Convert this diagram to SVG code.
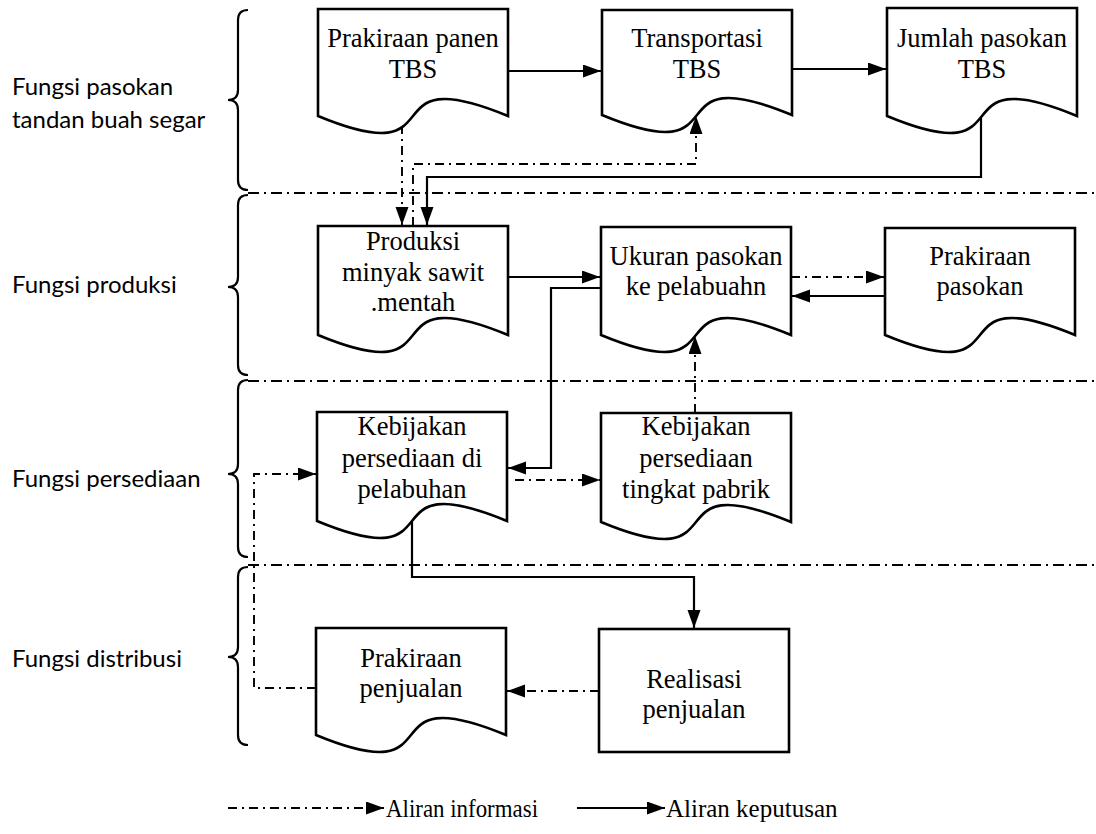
<svg xmlns="http://www.w3.org/2000/svg" width="1096" height="834" viewBox="0 0 1096 834">
<defs>
<marker id="ah" markerUnits="userSpaceOnUse" markerWidth="20" markerHeight="14" refX="18" refY="6.5" orient="auto">
<path d="M0,0 L18,6.5 L0,13 Z" fill="#000"/>
</marker>
<style>
.bg{fill:#fff}
.node{fill:#fff;stroke:#000;stroke-width:2.6;stroke-linejoin:miter}
.t{font-family:"Liberation Serif","Times New Roman",serif;font-size:26.5px;fill:#000;text-anchor:middle}
.lbl{font-family:Lato,"Noto Sans",sans-serif;font-size:24px;fill:#000}
.lg{font-family:"Liberation Serif","Times New Roman",serif;font-size:25px;fill:#000}
.brace{fill:none;stroke:#000;stroke-width:2.2}
.sep{fill:none;stroke:#000;stroke-width:1.8;stroke-dasharray:11 5 2 5}
.dec{fill:none;stroke:#000;stroke-width:2.2}
.info{fill:none;stroke:#000;stroke-width:1.9;stroke-dasharray:9 5 2 5}
.arr{marker-end:url(#ah)}
</style>
</defs>
<rect class="bg" x="0" y="0" width="1096" height="834"/>

<g id="lanes">
<text class="lbl" x="12" y="95">Fungsi pasokan</text>
<text class="lbl" x="12" y="128">tandan buah segar</text>
<text class="lbl" x="12" y="293">Fungsi produksi</text>
<text class="lbl" x="12" y="487">Fungsi persediaan</text>
<text class="lbl" x="12" y="667">Fungsi distribusi</text>
<path class="brace" d="M248,10 Q238,10 238,20 V90 Q238,100 228,100 Q238,100 238,110 V180 Q238,190 248,190"/>
<path class="brace" d="M248,195 Q238,195 238,205 V277 Q238,287 228,287 Q238,287 238,297 V365 Q238,375 248,375"/>
<path class="brace" d="M248,380 Q238,380 238,390 V464 Q238,474 228,474 Q238,474 238,484 V547 Q238,557 248,557"/>
<path class="brace" d="M248,567 Q238,567 238,577 V647 Q238,657 228,657 Q238,657 238,667 V735 Q238,745 248,745"/>
<path class="sep" d="M248,193 H1096"/>
<path class="sep" d="M248,381 H1096"/>
<path class="sep" d="M248,565 H1096"/>
</g>

<g id="connectors">
<path class="dec arr" d="M508,71 H601"/>
<path class="dec arr" d="M793,69 H886"/>
<path class="dec arr" d="M981,116 V177 H427 V225"/>
<path class="dec arr" d="M508,277 H600"/>
<path class="dec arr" d="M885,296 H792"/>
<path class="dec arr" d="M602,288 H551 V468 H508"/>
<path class="dec arr" d="M412,521 V577 H694 V628"/>
<path class="info arr" d="M402,125 V225"/>
<path class="info arr" d="M413,226 V164 H696 V116"/>
<path class="info arr" d="M791,277 H884"/>
<path class="info arr" d="M695,413 V336"/>
<path class="info arr" d="M515,480 H600"/>
<path class="info arr" d="M316,688 H254 V474 H316"/>
<path class="info arr" d="M599,691 H507"/>
</g>

<g id="n1">
<path class="node" d="M318,9 H508 V116 C365.5,57 460.5,175 318,116 Z"/>
<text class="t" x="413" y="47">Prakiraan panen</text>
<text class="t" x="413" y="78">TBS</text>
</g>
<g id="n2">
<path class="node" d="M602,10 H792 V115 C649.5,56 744.5,174 602,115 Z"/>
<text class="t" x="697" y="47">Transportasi</text>
<text class="t" x="697" y="78">TBS</text>
</g>
<g id="n3">
<path class="node" d="M887,8 H1077 V116 C934.5,57 1029.5,175 887,116 Z"/>
<text class="t" x="982" y="47">Jumlah pasokan</text>
<text class="t" x="982" y="78">TBS</text>
</g>
<g id="n4">
<path class="node" d="M318,226 H508 V335 C365.5,276 460.5,394 318,335 Z"/>
<text class="t" x="413" y="250">Produksi</text>
<text class="t" x="413" y="281">minyak sawit</text>
<text class="t" x="413" y="311">.mentah</text>
</g>
<g id="n5">
<path class="node" d="M601,227 H791 V335 C648.5,276 743.5,394 601,335 Z"/>
<text class="t" x="696" y="265">Ukuran pasokan</text>
<text class="t" x="696" y="295">ke pelabuahn</text>
</g>
<g id="n6">
<path class="node" d="M885,228 H1075 V335 C932.5,276 1027.5,394 885,335 Z"/>
<text class="t" x="980" y="265">Prakiraan</text>
<text class="t" x="980" y="295">pasokan</text>
</g>
<g id="n7">
<path class="node" d="M317,412 H507 V521 C364.5,462 459.5,580 317,521 Z"/>
<text class="t" x="412" y="435">Kebijakan</text>
<text class="t" x="412" y="467">persediaan di</text>
<text class="t" x="412" y="498">pelabuhan</text>
</g>
<g id="n8">
<path class="node" d="M601,413 H791 V522 C648.5,463 743.5,581 601,522 Z"/>
<text class="t" x="696" y="435">Kebijakan</text>
<text class="t" x="696" y="467">persediaan</text>
<text class="t" x="696" y="498">tingkat pabrik</text>
</g>
<g id="n9">
<path class="node" d="M316,628 H506 V735 C363.5,676 458.5,794 316,735 Z"/>
<text class="t" x="411" y="667">Prakiraan</text>
<text class="t" x="411" y="697">penjualan</text>
</g>
<g id="n10">
<rect class="node" x="599" y="629" width="190" height="123"/>
<text class="t" x="694" y="688">Realisasi</text>
<text class="t" x="694" y="718">penjualan</text>
</g>

<g id="legend">
<path class="info arr" d="M228,808 H384"/>
<text class="lg" x="386" y="817" textLength="152" lengthAdjust="spacingAndGlyphs">Aliran informasi</text>
<path class="dec arr" d="M577,808 H665"/>
<text class="lg" x="666" y="817">Aliran keputusan</text>
</g>
</svg>
